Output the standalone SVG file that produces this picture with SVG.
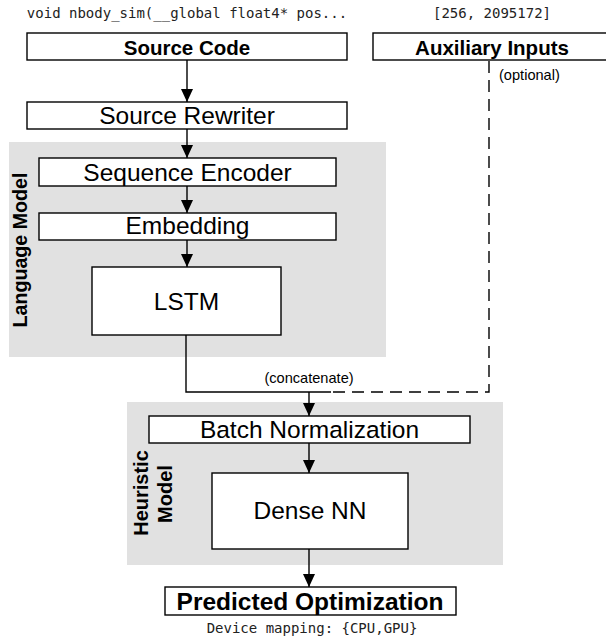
<svg xmlns="http://www.w3.org/2000/svg" width="606" height="639" viewBox="0 0 606 639">
<style>
.box{fill:#fff;stroke:#000;stroke-width:1.4}
.panel{fill:#e1e1e1;stroke:none}
.lbl{font-family:"Liberation Sans",Arial,sans-serif;font-size:24.5px;fill:#000;text-anchor:middle}
.bold{font-family:"Liberation Sans",Arial,sans-serif;font-weight:bold;fill:#000;text-anchor:middle}
.small{font-family:"Liberation Sans",Arial,sans-serif;font-size:14.6px;fill:#000}
.mono{font-family:"DejaVu Sans Mono","Liberation Mono",monospace;font-size:14px;fill:#222;text-anchor:middle}
.edge{fill:none;stroke:#000;stroke-width:1.4}
.dash{fill:none;stroke:#000;stroke-width:1.4;stroke-dasharray:12 7}
</style>
<defs>
<marker id="arr" markerUnits="userSpaceOnUse" markerWidth="13" markerHeight="12" refX="13" refY="6" orient="auto">
<path d="M0,0 L13,6 L0,12 z" fill="#000"/>
</marker>
</defs>

<g id="panels">
<g id="language-model">
<rect class="panel" x="9" y="142" width="377" height="215"/>
<text class="bold" font-size="19.5" transform="translate(27,250) rotate(-90)" textLength="155" lengthAdjust="spacingAndGlyphs">Language Model</text>
</g>
<g id="heuristic-model">
<rect class="panel" x="127" y="402" width="376" height="163"/>
<text class="bold" font-size="20" transform="translate(148,493) rotate(-90)">Heuristic</text>
<text class="bold" font-size="20" transform="translate(172,494) rotate(-90)">Model</text>
</g>
</g>

<g id="top-labels">
<text class="mono" x="187" y="18">void nbody_sim(__global float4* pos...</text>
<text class="mono" x="492" y="18">[256, 2095172]</text>
</g>

<g id="connectors">
<line class="edge" x1="187" y1="60" x2="187" y2="102" marker-end="url(#arr)"/>
<line class="edge" x1="187" y1="129" x2="187" y2="158" marker-end="url(#arr)"/>
<line class="edge" x1="187" y1="186" x2="187" y2="213" marker-end="url(#arr)"/>
<line class="edge" x1="187" y1="240" x2="187" y2="267" marker-end="url(#arr)"/>
<polyline class="edge" points="186,335 186,392 331,392"/>
<polyline class="dash" points="489,61 489,392 331,392"/>
<line class="edge" x1="309" y1="392" x2="309" y2="416" marker-end="url(#arr)"/>
<line class="edge" x1="309" y1="443" x2="309" y2="473" marker-end="url(#arr)"/>
<line class="edge" x1="309" y1="549" x2="309" y2="587" marker-end="url(#arr)"/>
<text class="small" x="499" y="80">(optional)</text>
<text class="small" x="309" y="383" text-anchor="middle">(concatenate)</text>
</g>

<g id="source-code">
<rect class="box" x="27" y="33" width="320" height="27"/>
<text class="bold" font-size="20.5" x="187" y="55">Source Code</text>
</g>
<g id="auxiliary-inputs">
<rect class="box" x="373" y="33" width="240" height="27"/>
<text class="bold" font-size="20.5" x="492" y="55">Auxiliary Inputs</text>
</g>
<g id="source-rewriter">
<rect class="box" x="27" y="102" width="320" height="27"/>
<text class="lbl" x="187" y="124">Source Rewriter</text>
</g>
<g id="sequence-encoder">
<rect class="box" x="39" y="158" width="297" height="28"/>
<text class="lbl" x="187.5" y="181">Sequence Encoder</text>
</g>
<g id="embedding">
<rect class="box" x="39" y="213" width="297" height="27"/>
<text class="lbl" x="187.5" y="234">Embedding</text>
</g>
<g id="lstm">
<rect class="box" x="92" y="267" width="189" height="68"/>
<text class="lbl" x="186.5" y="310">LSTM</text>
</g>
<g id="batch-normalization">
<rect class="box" x="149" y="416" width="321" height="27"/>
<text class="lbl" x="309.5" y="438">Batch Normalization</text>
</g>
<g id="dense-nn">
<rect class="box" x="212" y="473" width="196" height="76"/>
<text class="lbl" x="310" y="519">Dense NN</text>
</g>
<g id="predicted-optimization">
<rect class="box" x="165" y="587" width="291" height="28"/>
<text class="bold" font-size="24.5" x="310" y="610">Predicted Optimization</text>
<text class="mono" x="312" y="633">Device mapping: {CPU,GPU}</text>
</g>
</svg>
